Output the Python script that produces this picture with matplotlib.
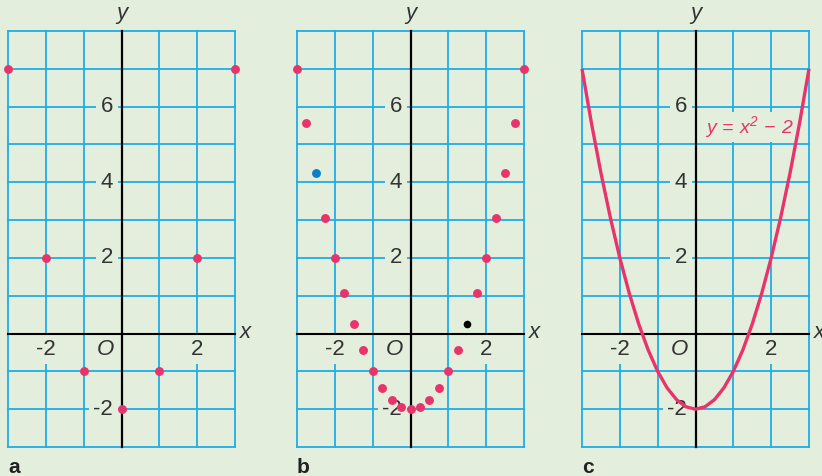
import matplotlib
matplotlib.use("Agg")
import matplotlib.pyplot as plt

plt.rcParams['font.family'] = ['Liberation Sans', 'DejaVu Sans']
plt.rcParams['mathtext.fontset'] = 'custom'
plt.rcParams['mathtext.rm'] = 'Liberation Sans:italic'
plt.rcParams['mathtext.it'] = 'Liberation Sans:italic'
plt.rcParams['mathtext.sf'] = 'Liberation Sans:italic'

# ---- data ----
panel_names = ["a", "b", "c"]
xlim = [-3, 3]
ylim = [-3, 8]
x_tick_labels = {-2: "-2", 2: "2"}
y_tick_labels = {-2: "-2", 2: "2", 4: "4", 6: "6"}

a_x = [-3, -2, -1, 0, 1, 2, 3]
a_y = [7, 2, -1, -2, -1, 2, 7]

b_x = [-3, -2.75, -2.25, -2, -1.75, -1.5, -1.25, -1, -0.75, -0.5, -0.25, 0,
       0.25, 0.5, 0.75, 1, 1.25, 1.75, 2, 2.25, 2.5, 2.75, 3]
b_y = [7, 5.56, 3.06, 2, 1.06, 0.25, -0.44, -1, -1.44, -1.75, -1.94, -2,
       -1.94, -1.75, -1.44, -1, -0.44, 1.06, 2, 3.06, 4.25, 5.56, 7]
b_blue_x = [-2.5]
b_blue_y = [4.25]
b_black_x = [1.5]
b_black_y = [0.25]

c_x = [-3, -2.75, -2.5, -2.25, -2, -1.75, -1.5, -1.25, -1, -0.75, -0.5, -0.25, 0,
       0.25, 0.5, 0.75, 1, 1.25, 1.5, 1.75, 2, 2.25, 2.5, 2.75, 3]
c_y = [7, 5.5625, 4.25, 3.0625, 2, 1.0625, 0.25, -0.4375, -1, -1.4375, -1.75, -1.9375, -2,
       -1.9375, -1.75, -1.4375, -1, -0.4375, 0.25, 1.0625, 2, 3.0625, 4.25, 5.5625, 7]
c_label = r'$y\,=\,x^2\,-\,2$'

# ---- style ----
BG = "#e3efdc"
GRID = "#1eaee6"
PINK = "#e8336b"
BLUE = "#0b7fc7"
TXT = "#333333"
FS = 16

W, H = 822, 476
fig = plt.figure(figsize=(W / 100, H / 100), dpi=100, facecolor=BG)

lefts = [8, 297, 582]
pw, top, bottom = 227, 31, 447

axes = []
for i, name in enumerate(panel_names):
    ax = fig.add_axes([lefts[i] / W, (H - bottom) / H, pw / W, (bottom - top) / H])
    ax.set_facecolor(BG)
    ax.set_xlim(*xlim)
    ax.set_ylim(*ylim)
    for s in ax.spines.values():
        s.set_visible(False)
    ax.set_xticks([])
    ax.set_yticks([])
    for gx in range(xlim[0], xlim[1] + 1):
        ax.plot([gx, gx], ylim, color=GRID, lw=1.3, zorder=1, clip_on=False)
    for gy in range(ylim[0], ylim[1] + 1):
        ax.plot(xlim, [gy, gy], color=GRID, lw=1.3, zorder=1, clip_on=False)
    ax.plot(xlim, [0, 0], color="black", lw=1.5, zorder=3, clip_on=False)
    ax.plot([0, 0], ylim, color="black", lw=1.6, zorder=3, clip_on=False)
    bbox = dict(boxstyle="square,pad=0.2", fc=BG, ec="none")
    for v, t in y_tick_labels.items():
        ax.text(-0.22, v, t, ha="right", va="center", fontsize=FS, color=TXT,
                bbox=bbox, zorder=2)
    for v, t in x_tick_labels.items():
        ax.text(v, -0.42, t, ha="center", va="center", fontsize=FS, color=TXT,
                bbox=bbox, zorder=2)
    ax.text(-0.42, -0.42, "O", ha="center", va="center", fontsize=FS, color=TXT,
            style="italic", zorder=2)
    ax.text(3.12, 0.03, "x", ha="left", va="center", fontsize=16, color=TXT,
            style="italic", clip_on=False)
    ax.text(0, 8.45, "y", ha="center", va="center", fontsize=16, color=TXT,
            style="italic", clip_on=False)
    ax.text(-3, -3.55, name, ha="left", va="center", fontsize=15, color="#222222",
            fontweight="bold", clip_on=False)
    axes.append(ax)

axes[0].plot(a_x, a_y, "o", color=PINK, ms=6.4, mec="none", zorder=5, clip_on=False)

axes[1].plot(b_x, b_y, "o", color=PINK, ms=6.4, mec="none", zorder=5, clip_on=False)
axes[1].plot(b_blue_x, b_blue_y, "o", color=BLUE, ms=6.4, mec="none", zorder=5)
axes[1].plot(b_black_x, b_black_y, "o", color="black", ms=5.5, mec="none", zorder=5)

axes[2].plot(c_x, c_y, "-", color=PINK, lw=2.4, zorder=5, clip_on=False,
             solid_capstyle="butt")
axes[2].text(0.25, 5.46, c_label, ha="left", va="center", fontsize=14, color=PINK,
             bbox=dict(boxstyle="square,pad=0.1", fc=BG, ec="none"), zorder=4)

fig.savefig("out.png", dpi=100, facecolor=BG)
